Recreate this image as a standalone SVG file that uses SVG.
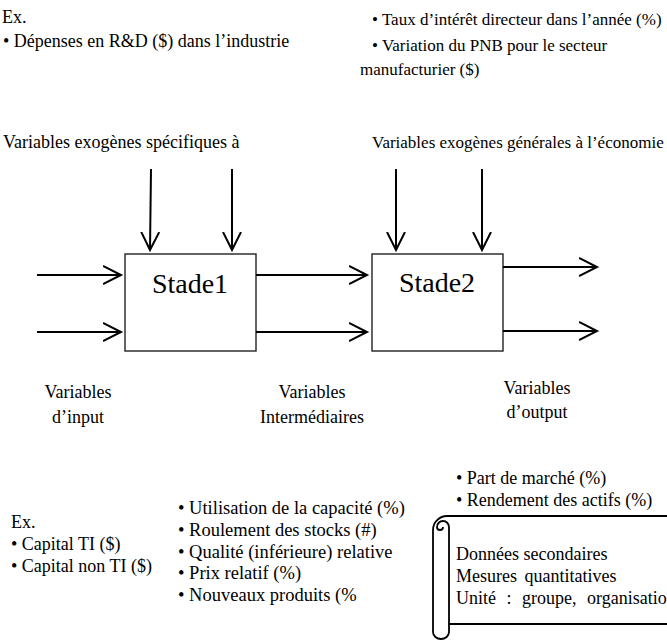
<svg xmlns="http://www.w3.org/2000/svg" width="667" height="641" viewBox="0 0 667 641" font-family="'Liberation Serif', 'Times New Roman', 'DejaVu Serif', serif">
  <style>
    text { font-family: "Liberation Serif", "Times New Roman", "DejaVu Serif", serif; font-size: 18px; fill: #000; }
    .small { font-size: 17px; }
    .big { font-size: 18.5px; }
    .stage { font-size: 28px; text-anchor: middle; }
    .mid { text-anchor: middle; }
    .box { fill: #fff; stroke: #222; stroke-width: 1.4; }
    .arrow { stroke: #000; stroke-width: 2; fill: none; marker-end: url(#open); }
    .scroll { fill: none; stroke: #000; stroke-width: 1.8; }
  </style>
  <defs>
    <marker id="open" markerUnits="userSpaceOnUse" markerWidth="22" markerHeight="22" refX="18" refY="10" orient="auto">
      <path d="M0 1 L18 10 L0 19" fill="none" stroke="#000" stroke-width="2"/>
    </marker>
  </defs>

  <!-- exogenous variable examples -->
  <g id="exo-specific-examples">
    <text x="2" y="23">Ex.</text>
    <text x="3" y="47">• Dépenses en R&amp;D ($) dans l’industrie</text>
  </g>
  <g id="exo-general-examples" class="small">
    <text class="small" x="372" y="25">• Taux d’intérêt directeur dans l’année (%)</text>
    <text class="small" x="372" y="51">• Variation du PNB pour le secteur</text>
    <text class="small" x="360" y="75">manufacturier ($)</text>
  </g>
  <g id="exo-headers">
    <text x="3" y="148">Variables exogènes spécifiques à</text>
    <text class="small" x="372" y="148">Variables exogènes générales à l’économie</text>
  </g>

  <!-- stages -->
  <g id="stade1">
    <rect class="box" x="125" y="254" width="131" height="97"/>
    <text class="stage" x="190" y="293">Stade1</text>
  </g>
  <g id="stade2">
    <rect class="box" x="372" y="254" width="131" height="97"/>
    <text class="stage" x="437" y="292">Stade2</text>
  </g>

  <!-- connectors -->
  <g id="connectors">
    <line class="arrow" x1="151" y1="169" x2="150" y2="250"/>
    <line class="arrow" x1="232" y1="169" x2="232" y2="250"/>
    <line class="arrow" x1="396" y1="169" x2="396" y2="250"/>
    <line class="arrow" x1="482" y1="169" x2="482" y2="250"/>
    <line class="arrow" x1="37" y1="275" x2="121" y2="275"/>
    <line class="arrow" x1="37" y1="332" x2="121" y2="332"/>
    <line class="arrow" x1="256" y1="275" x2="367" y2="275"/>
    <line class="arrow" x1="256" y1="332" x2="367" y2="332"/>
    <line class="arrow" x1="503" y1="267" x2="597" y2="267"/>
    <line class="arrow" x1="503" y1="331" x2="597" y2="331"/>
  </g>

  <!-- variable categories -->
  <g id="label-input">
    <text class="mid" x="78" y="398">Variables</text>
    <text class="mid" x="78" y="423">d’input</text>
  </g>
  <g id="label-intermediate">
    <text class="mid" x="312" y="398">Variables</text>
    <text class="mid" x="312" y="423">Intermédiaires</text>
  </g>
  <g id="label-output">
    <text class="mid" x="537" y="394">Variables</text>
    <text class="mid" x="537" y="418">d’output</text>
  </g>

  <!-- examples per category -->
  <g id="output-examples">
    <text x="456" y="484">• Part de marché (%)</text>
    <text x="456" y="506">• Rendement des actifs (%)</text>
  </g>
  <g id="input-examples">
    <text x="11" y="528">Ex.</text>
    <text x="11" y="550">• Capital TI ($)</text>
    <text x="11" y="572">• Capital non TI ($)</text>
  </g>
  <g id="intermediate-examples">
    <text class="big" x="178" y="514">• Utilisation de la capacité (%)</text>
    <text class="big" x="178" y="536">• Roulement des stocks (#)</text>
    <text class="big" x="178" y="558">• Qualité (inférieure) relative</text>
    <text class="big" x="178" y="579">• Prix relatif (%)</text>
    <text class="big" x="178" y="601">• Nouveaux produits (%</text>
  </g>

  <!-- data source scroll -->
  <g id="data-scroll">
    <path class="scroll" d="M667 516 H447 A14 14 0 0 0 433 530 V632 A8 7 0 0 0 449 632 V527 A6 6 0 0 0 437 527 A3 3 0 0 0 443 527"/>
    <path class="scroll" d="M449 624 H667"/>
    <text x="456" y="560">Données secondaires</text>
    <text x="456" y="582" word-spacing="3">Mesures quantitatives</text>
    <text x="456" y="604" word-spacing="6">Unité : groupe, organisation</text>
  </g>
</svg>
